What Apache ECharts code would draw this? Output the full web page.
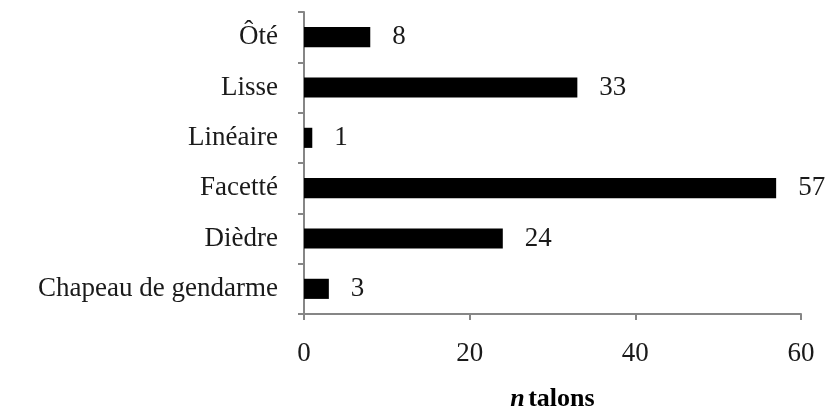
<!DOCTYPE html>
<html><head><meta charset="utf-8">
<script src="https://cdn.jsdelivr.net/npm/echarts@6/dist/echarts.min.js"></script>
<style>html,body{margin:0;padding:0;background:#fff}#c{width:829px;height:412px}</style>
</head><body><div id="c"></div>
<script>
const categories = ['Chapeau de gendarme', 'Dièdre', 'Facetté', 'Linéaire', 'Lisse', 'Ôté'];
const values = [3, 24, 57, 1, 33, 8];
const xTicks = [0, 20, 40, 60];
const font = 'Liberation Serif';
const chart = echarts.init(document.getElementById('c'));
chart.setOption({
  animation: false,
  grid: {left: 304, right: 28, top: 12, bottom: 98, containLabel: false, outerBoundsMode: 'none'},
  xAxis: {
    type: 'value', min: xTicks[0], max: xTicks[xTicks.length-1], interval: 20,
    name: '{i|n} {b|talons}', nameLocation: 'middle', nameGap: 72,
    nameTextStyle: {rich: {i: {fontFamily: font, fontSize: 26, fontWeight: 'bold', fontStyle: 'italic', color: '#000'}, b: {fontFamily: font, fontSize: 26, fontWeight: 'bold', color: '#000'}}},
    axisLine: {show: true, lineStyle: {color: '#868686', width: 2}},
    axisTick: {show: true, length: 6, lineStyle: {color: '#868686', width: 2}},
    splitLine: {show: false},
    axisLabel: {fontFamily: font, fontSize: 27, color: '#1a1a1a', margin: 26}
  },
  yAxis: {
    type: 'category', data: categories,
    axisLine: {show: true, lineStyle: {color: '#868686', width: 2}},
    axisTick: {show: true, length: 6, lineStyle: {color: '#868686', width: 2}},
    axisLabel: {fontFamily: font, fontSize: 27, color: '#1a1a1a', margin: 26}
  },
  series: [{
    type: 'bar', data: values, barWidth: '40%',
    itemStyle: {color: '#000'},
    label: {show: true, position: 'right', distance: 22, fontFamily: font, fontSize: 27, color: '#1a1a1a'}
  }]
});
</script></body></html>
